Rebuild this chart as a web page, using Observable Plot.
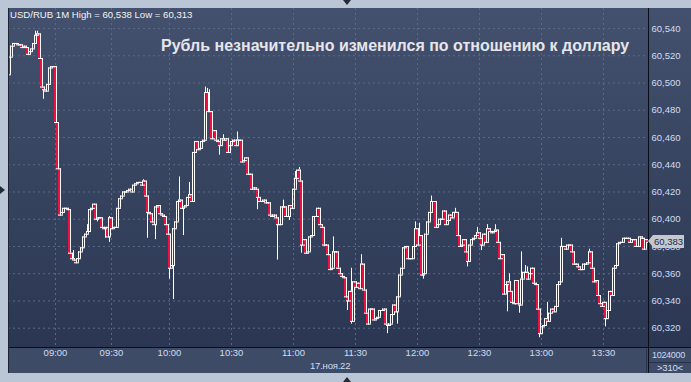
<!DOCTYPE html>
<html><head><meta charset="utf-8">
<script src="https://cdn.jsdelivr.net/npm/d3@7"></script>
<script src="https://cdn.jsdelivr.net/npm/@observablehq/plot@0.6"></script>
<style>
html,body{margin:0;padding:0;background:#bac6d6;}
#wrap{position:relative;width:691px;height:382px;overflow:hidden;font-family:"Liberation Sans",Arial,sans-serif;}
#panel{position:absolute;left:8px;top:8px;width:683px;height:365px;
 background:linear-gradient(to bottom,#43516e 0px,#2b3752 339px,#3d4b67 339px,#3d4b67 365px);}
#chart{position:absolute;left:0;top:0;}
.abs{position:absolute;white-space:nowrap;}
.lbl{color:#cfdcf2;font-size:9.5px;line-height:10px;letter-spacing:-0.2px;}
.line{position:absolute;background:#0b0e16;}
.tri{position:absolute;width:0;height:0;}
</style></head>
<body>
<div id="wrap">
  <div id="panel"></div>
  <div id="chart"></div>
</div>
<script>
// ---- data (USD/RUB, 1-minute candles, 17.11.22) ----
const firstOpen = 60.506;
const closes = [
60.519,60.527,60.529,60.529,60.528,60.528,60.526,60.527,60.526,60.521,
60.523,60.525,60.529,60.535,60.536,60.518,60.497,60.495,60.494,60.499,
60.511,60.512,60.512,60.471,60.437,60.403,60.405,60.408,60.408,60.407,
60.375,60.371,60.370,60.368,60.371,60.376,60.379,60.387,60.389,60.391,
60.407,60.408,60.411,60.400,60.401,60.401,60.394,60.393,60.394,60.387,
60.401,60.393,60.394,60.394,60.408,60.415,60.417,60.420,60.420,60.421,
60.422,60.420,60.425,60.426,60.427,60.427,60.425,60.428,60.417,60.405,
60.404,60.398,60.396,60.409,60.410,60.404,60.403,60.402,60.396,60.389,
60.364,60.366,60.393,60.398,60.413,60.414,60.408,60.409,60.410,60.416,
60.418,60.413,60.449,60.457,60.451,60.452,60.457,60.458,60.493,60.479,
60.479,60.459,60.465,60.458,60.457,60.454,60.459,60.458,60.459,60.449,
60.454,60.457,60.458,60.454,60.458,60.458,60.442,60.443,60.445,60.433,
60.433,60.422,60.423,60.422,60.416,60.413,60.413,60.414,60.412,60.412,
60.403,60.402,60.403,60.401,60.396,60.396,60.409,60.409,60.402,60.402,
60.410,60.408,60.422,60.430,60.436,60.428,60.381,60.385,60.375,60.376,
60.387,60.388,60.402,60.402,60.408,60.396,60.394,60.381,
60.381,60.374,60.363,60.364,60.376,60.376,60.364,60.360,60.358,60.357,
60.343,60.340,60.347,60.325,60.354,60.350,60.353,60.349,60.367,60.348,
60.331,60.323,60.334,60.334,60.326,60.327,60.328,60.333,60.333,60.334,
60.323,60.322,60.323,60.330,60.337,60.332,60.343,60.359,60.364,60.379,
60.380,60.371,60.371,60.371,60.380,60.393,60.381,60.388,60.359,60.360,
60.389,60.398,60.405,60.413,60.413,60.394,60.396,60.400,60.400,60.406,
60.396,60.399,60.403,60.401,60.405,60.405,60.388,60.380,60.381,60.385,
60.376,60.369,60.381,60.385,60.386,60.388,60.390,60.386,60.381,60.389,
60.383,
60.393,60.391,60.390,60.391,60.392,60.383,60.371,60.374,60.345,60.352,
60.354,60.347,60.339,60.338,60.355,60.338,60.337,60.356,60.361,60.361,
60.356,60.360,60.364,60.353,60.352,60.334,60.316,60.321,60.322,60.327,
60.325,60.331,60.334,60.332,60.336,60.352,60.354,60.380,60.380,60.378,
60.381,60.381,60.376,60.367,60.367,60.365,60.363,60.363,60.367,60.367,
60.368,60.376,60.364,60.354,60.355,60.344,60.338,60.336,60.339,60.327,
60.333,60.347,60.344,60.364,60.366,60.382,60.383,60.383,60.386,60.386,
60.386,60.383,60.385,60.385,60.380,60.380,60.387,60.386,60.378,60.385,
60.383
];
const wickHighIdx = [13,14,32,39,50,67,85,90,98,99,100,107,114,137,143,145,162,171,176,203,205,211,223,234,239,243,250,256,258,259,269,276,290];
const wickHighVal = [60.538,60.538,60.377,60.396,60.402,60.429,60.431,60.427,60.497,60.496,60.495,60.462,60.464,60.414,60.435,60.438,60.387,60.364,60.374,60.398,60.397,60.417,60.408,60.394,60.396,60.396,60.360,60.376,60.366,60.365,60.339,60.386,60.378];
const wickLowIdx = [17,44,48,50,69,73,80,82,87,105,124,134,140,146,169,171,189,194,207,229,236,249,253,255,265,298];
const wickLowVal = [60.488,60.398,60.386,60.383,60.386,60.385,60.356,60.341,60.388,60.447,60.407,60.370,60.399,60.375,60.333,60.323,60.316,60.323,60.356,60.365,60.377,60.332,60.337,60.331,60.313,60.321];
const tickIndex = [23,51,80,111,142,173,204,235,266,297];
const tickLabels = ["09:00","09:30","10:00","10:30","11:00","11:30","12:00","12:30","13:00","13:30"];
const yTicks = [60.32,60.34,60.36,60.38,60.40,60.42,60.44,60.46,60.48,60.50,60.52,60.54];
const headerText = "USD/RUB 1M High = 60,538 Low = 60,313";
const titleText = "Рубль незначительно изменился по отношению к доллару";
const dateText = "17.ноя.22";
const volText = "1024000";
const countText = ">310<";

// ---- build candles ----
const hi = new Map(wickHighIdx.map((k, j) => [k, wickHighVal[j]]));
const lo = new Map(wickLowIdx.map((k, j) => [k, wickLowVal[j]]));
const candles = closes.map((c, i) => {
  const o = i ? closes[i - 1] : firstOpen;
  return {i, open: o, close: c,
    top: Math.max(o, c), bot: Math.min(o, c),
    high: Math.max(o, c, hi.has(i) ? hi.get(i) : -Infinity),
    low: Math.min(o, c, lo.has(i) ? lo.get(i) : Infinity)};
});
const ticks = tickIndex.map((t, j) => ({t, label: tickLabels[j]}));
const fmt = d => d3.format(".3f")(d).replace(".", ",");

const grid = "#5a6987";
const white = "#ffffff";
const red = "#ee1040";
const lab = "#cfdcf2";
const bodies = candles.filter(d => d.open !== d.close);
const falling = candles.filter(d => d.close < d.open);

const chart = Plot.plot({
  width: 691, height: 382,
  marginTop: 8, marginBottom: 35, marginLeft: 8, marginRight: 43,
  x: {domain: [-0.5, closes.length - 0.5], axis: null},
  y: {domain: [60.30583, 60.55468], axis: null},
  style: {background: "transparent", fontFamily: "Liberation Sans, Arial, sans-serif", fontSize: "9.5px", overflow: "visible"},
  marks: [
    Plot.ruleY(yTicks, {y: d => d, stroke: grid, strokeDasharray: "2,3"}),
    Plot.ruleX(ticks, {x: "t", stroke: grid, strokeDasharray: "2,3"}),
    // wicks
    Plot.ruleX(candles.filter(d => d.high > d.top), {x: "i", y1: "top", y2: "high", stroke: white}),
    Plot.ruleX(candles.filter(d => d.low < d.bot), {x: "i", y1: "low", y2: "bot", stroke: white}),
    // body outline: left and right edges
    Plot.ruleX(bodies, {x: d => d.i - 0.5, y1: "bot", y2: "top", stroke: white}),
    Plot.ruleX(bodies, {x: d => d.i + 0.5, y1: "bot", y2: "top", stroke: white}),
    // red body of falling candles
    Plot.rect(falling, {x1: d => d.i - 0.5, x2: d => d.i + 0.5, y1: "bot", y2: "top", fill: red}),
    // body outline: open and close edges
    Plot.ruleY(candles, {y: "open", x1: d => d.i - 0.5, x2: d => d.i + 1, stroke: white}),
    Plot.ruleY(candles, {y: "close", x1: d => d.i - 0.5, x2: d => d.i + 1, stroke: white}),
    Plot.text(yTicks, {y: d => d, text: d => fmt(d), frameAnchor: "right", textAnchor: "start", dx: 3, fill: lab, letterSpacing: "-0.2px"}),
    Plot.text(ticks, {x: "t", text: "label", frameAnchor: "bottom", dy: 8, fill: lab, letterSpacing: "-0.2px"})
  ]
});
document.getElementById("chart").appendChild(chart);

// ---- overlays ----
const wrap = document.getElementById("wrap");
function add(html, css, cls) {
  const el = document.createElement("div");
  el.className = cls || "abs";
  if (html != null) el.textContent = html;
  Object.assign(el.style, css);
  wrap.appendChild(el);
  return el;
}
// separator lines
add(null, {left: "648px", top: "8px", width: "1px", height: "365px"}, "line");
add(null, {left: "8px", top: "347px", width: "683px", height: "1px"}, "line");
add(null, {left: "8px", top: "8px", width: "1px", height: "365px", background: "#1c2333"}, "line");
add(null, {left: "646px", top: "349px", width: "1px", height: "24px", background: "#2a3550"}, "line");
add(null, {left: "649px", top: "362px", width: "42px", height: "1px", background: "#27324a"}, "line");
// texts
add(headerText, {left: "10px", top: "10px", color: "#f2f2f2", fontSize: "9.6px", lineHeight: "10px"});
add(titleText, {left: "161px", top: "37.5px", color: "#e6e6ec", fontSize: "16px", fontWeight: "bold", lineHeight: "16px"});
add(dateText, {left: "310px", top: "361px"}, "abs lbl");
add(volText, {left: "652px", top: "349.5px", fontSize: "9px", letterSpacing: "-0.3px"}, "abs lbl");
add(countText, {left: "657px", top: "362.5px"}, "abs lbl");
// last price marker, placed with the plot's y scale
const last = closes[closes.length - 1];
const yl = chart.scale("y").apply(last);
add(null, {left: "648px", top: (yl - 6.5) + "px", borderTop: "6.5px solid transparent", borderBottom: "6.5px solid transparent", borderRight: "5px solid #c5c9cf"}, "tri");
add(fmt(last), {left: "653px", top: (yl - 6.5) + "px", width: "30px", height: "13px", background: "#c5c9cf", color: "#1c2a48", fontSize: "9.5px", lineHeight: "13px", paddingLeft: "1px"});
// frame triangles
add(null, {left: "343px", top: "0px", borderLeft: "4px solid transparent", borderRight: "4px solid transparent", borderTop: "5px solid #222a38"}, "tri");
add(null, {left: "0px", top: "186px", borderTop: "4px solid transparent", borderBottom: "4px solid transparent", borderLeft: "5px solid #222a38"}, "tri");
add(null, {left: "343px", top: "377px", borderLeft: "4px solid transparent", borderRight: "4px solid transparent", borderBottom: "5px solid #222a38"}, "tri");
</script>
</body></html>
